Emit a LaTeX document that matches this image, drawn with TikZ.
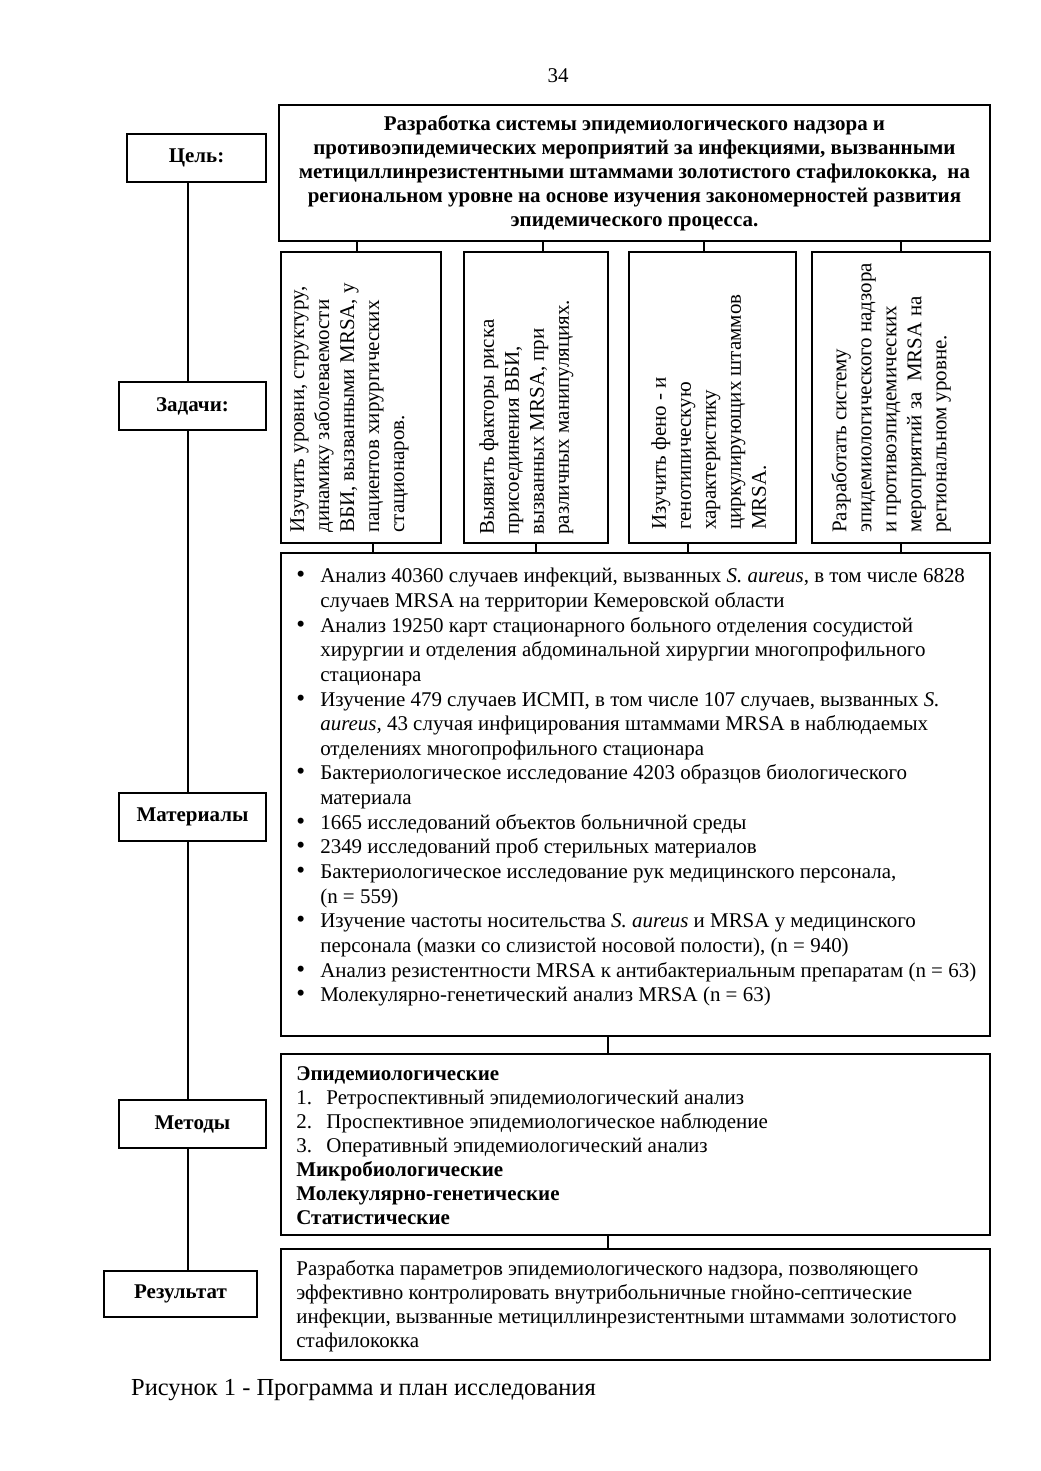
\documentclass[tikz,border=0pt]{standalone}
\usepackage{fontspec}
\usepackage{graphicx}
\setmainfont{Liberation Serif}
\usetikzlibrary{positioning}
\newcommand{\px}{0.5724pt}
\newlength{\bulind}\setlength{\bulind}{13.7pt}
\newlength{\numind}\setlength{\numind}{17.2pt}
\newcommand{\bitem}{\makebox[\bulind][l]{\smash{\scalebox{1.2}{\textbullet}}}}
\newcommand{\citem}{\hspace*{\bulind}}
\newcommand{\numitem}[1]{\makebox[\numind][l]{#1}}
\newcommand{\twelve}{\rmfamily\fontsize{12pt}{14.1pt}\selectfont}

\begin{document}
\begin{tikzpicture}[x=\px, y=-\px,
  box/.style  = {draw, line width=0.8pt, inner sep=0pt},
  lbl/.style  = {box, font=\rmfamily\bfseries\fontsize{12pt}{14pt}\selectfont},
  txt/.style  = {inner sep=0pt, align=left, anchor=north west, font=\twelve},
  vtxt/.style = {txt, rotate=90, font=\rmfamily\fontsize{12pt}{14.3pt}\selectfont},
  link/.style = {line width=0.6pt},
]
\useasboundingbox (0,0) rectangle (1040,1471);

\node[font=\twelve] (pnum) at (558,76) {34};

% left column
\node[lbl, minimum width=139*\px, minimum height=48*\px] (lgoal) at (196.5,158)  {Цель:};
\node[lbl, minimum width=147*\px, minimum height=48*\px] (ltask) at (192.5,406)  {Задачи:};
\node[lbl, minimum width=147*\px, minimum height=48*\px] (lmat)  at (192.5,817)  {Материалы};
\node[lbl, minimum width=147*\px, minimum height=48*\px] (lmeth) at (192.5,1124) {Методы};
\node[lbl, minimum width=153*\px, minimum height=46*\px] (lres)  at (180.5,1294) {Результат};

\coordinate (spine) at (188,0);
\draw[link] (spine |- lgoal.south) -- (spine |- ltask.north);
\draw[link] (spine |- ltask.south) -- (spine |- lmat.north);
\draw[link] (spine |- lmat.south)  -- (spine |- lmeth.north);
\draw[link] (spine |- lmeth.south) -- (spine |- lres.north);

% goal
\node[box, minimum width=711*\px, minimum height=136*\px, align=center,
      font=\rmfamily\bfseries\fontsize{12pt}{13.8pt}\selectfont] (goal) at (634.5,173)
  {Разработка системы эпидемиологического надзора и\\
   противоэпидемических мероприятий за инфекциями, вызванными\\
   метициллинрезистентными штаммами золотистого стафилококка,~~на\\
   региональном уровне на основе изучения закономерностей развития\\
   эпидемического процесса.};

% tasks
\node[box, minimum width=160*\px, minimum height=291*\px] (t1) at (361,397.5) {};
\node[box, minimum width=144*\px, minimum height=291*\px] (t2) at (536,397.5) {};
\node[box, minimum width=167*\px, minimum height=291*\px] (t3) at (712.5,397.5) {};
\node[box, minimum width=178*\px, minimum height=291*\px] (t4) at (901,397.5) {};

\node[vtxt] (t1txt) at (290,533)
  {Изучить уровни, структуру,\\ динамику заболеваемости\\
   ВБИ, вызванными MRSA, у\\ пациентов хирургических\\ стационаров.};
\node[vtxt] (t2txt) at (479,535)
  {Выявить факторы риска\\ присоединения ВБИ,\\
   вызванных MRSA, при\\ различных манипуляциях.};
\node[vtxt] (t3txt) at (651,530)
  {Изучить фено - и\\ генотипическую\\ характеристику\\
   циркулирующих штаммов\\ MRSA.};
\node[vtxt] (t4txt) at (831,533)
  {Разработать систему\\ эпидемиологического надзора\\
   и противоэпидемических\\ мероприятий за~~MRSA на\\ региональном уровне.};

% materials
\node[box, minimum width=709*\px, minimum height=483*\px] (mat) at (635.5,794.5) {};
\node[txt] (mattxt) at (296,568)
  {\bitem Анализ 40360 случаев инфекций, вызванных \textit{S. aureus}, в том числе 6828\\
   \citem случаев MRSA на территории Кемеровской области\\
   \bitem Анализ 19250 карт стационарного больного отделения сосудистой\\
   \citem хирургии и отделения абдоминальной хирургии многопрофильного\\
   \citem стационара\\
   \bitem Изучение 479 случаев ИСМП, в том числе 107 случаев, вызванных \textit{S.}\\
   \citem \textit{aureus,} 43 случая инфицирования штаммами MRSA в наблюдаемых\\
   \citem отделениях многопрофильного стационара\\
   \bitem Бактериологическое исследование 4203 образцов биологического\\
   \citem материала\\
   \bitem 1665 исследований объектов больничной среды\\
   \bitem 2349 исследований проб стерильных материалов\\
   \bitem Бактериологическое исследование рук медицинского персонала,\\
   \citem (n = 559)\\
   \bitem Изучение частоты носительства \textit{S. aureus} и MRSA у медицинского\\
   \citem персонала (мазки со слизистой носовой полости), (n = 940)\\
   \bitem Анализ резистентности MRSA к антибактериальным препаратам (n = 63)\\
   \bitem Молекулярно-генетический анализ MRSA (n = 63)};

% methods
\node[box, minimum width=709*\px, minimum height=181*\px] (meth) at (635.5,1144.5) {};
\node[txt, font=\rmfamily\fontsize{12pt}{13.8pt}\selectfont] (methtxt) at (296,1066)
  {\textbf{Эпидемиологические}\\
   \numitem{1.}Ретроспективный эпидемиологический анализ\\
   \numitem{2.}Проспективное эпидемиологическое наблюдение\\
   \numitem{3.}Оперативный эпидемиологический анализ\\
   \textbf{Микробиологические}\\
   \textbf{Молекулярно-генетические}\\
   \textbf{Статистические}};

% result
\node[box, minimum width=709*\px, minimum height=111*\px] (res) at (635.5,1304.5) {};
\node[txt, font=\rmfamily\fontsize{12pt}{13.7pt}\selectfont] (restxt) at (296,1260)
  {Разработка параметров эпидемиологического надзора, позволяющего\\
   эффективно контролировать внутрибольничные гнойно-септические\\
   инфекции, вызванные метициллинрезистентными штаммами золотистого\\
   стафилококка};

% connectors
\foreach \t/\xa/\xb in {t1/357/373, t2/543/536, t3/704/688, t4/901/901} {
  \draw[link] (\xa,0 |- goal.south) -- (\xa,0 |- \t.north);
  \draw[link] (\xb,0 |- \t.south) -- (\xb,0 |- mat.north);
}
\draw[link] (608,0 |- mat.south)  -- (608,0 |- meth.north);
\draw[link] (608,0 |- meth.south) -- (608,0 |- res.north);

\node[anchor=west, font=\rmfamily\fontsize{14pt}{16pt}\selectfont] (caption) at (125,1390)
  {Рисунок 1 - Программа и план исследования};
\end{tikzpicture}
\end{document}
